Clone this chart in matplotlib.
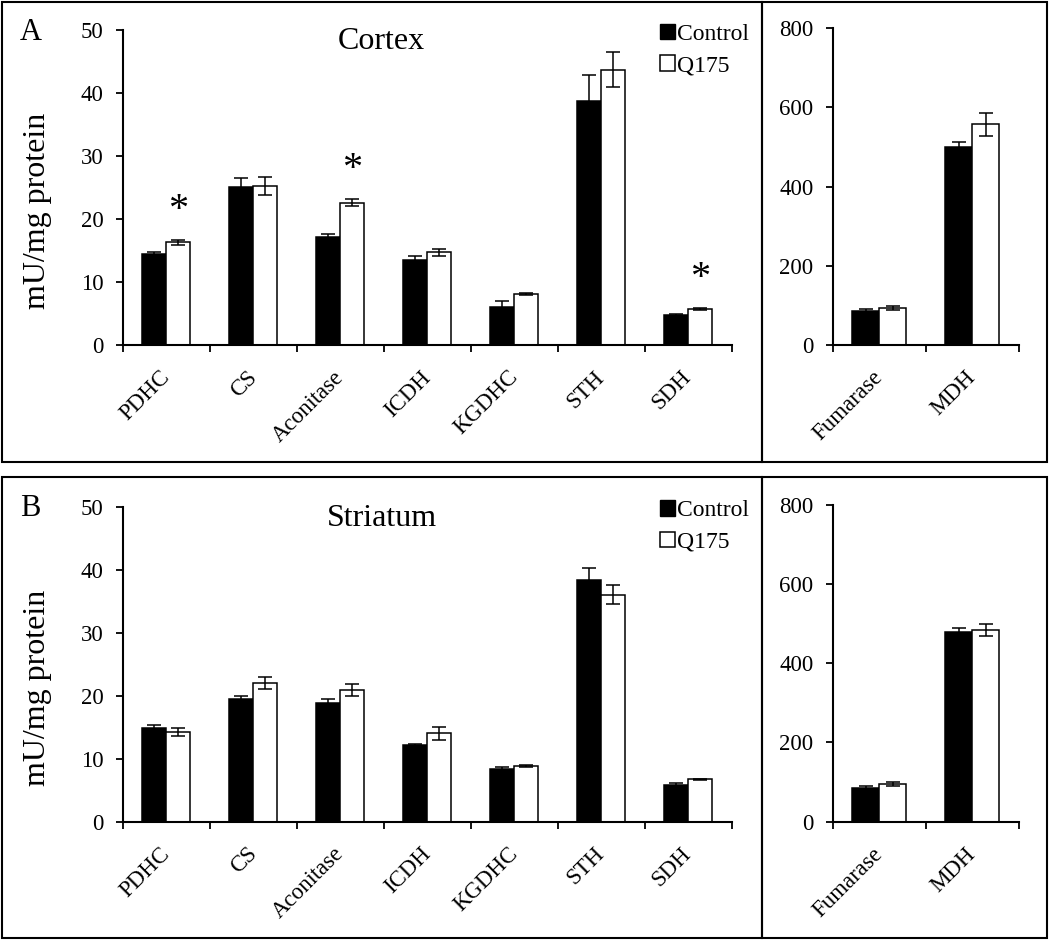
# Actividad de enzimas del ciclo de Krebs: corteza (A) y estriado (B), Control vs Q175
import numpy as np
import matplotlib.pyplot as plt
from matplotlib.patches import Patch, Rectangle

plt.rcParams['font.family'] = ['Liberation Serif', 'DejaVu Serif']

enzimas = ["PDHC", "CS", "Aconitase", "ICDH", "KGDHC", "STH", "SDH"]
enzimas_der = ["Fumarase", "MDH"]
grupos = ["Control", "Q175"]

# Panel A: corteza
cortex_ctrl = [14.5, 25.0, 17.2, 13.5, 6.0, 38.8, 4.8]
cortex_ctrl_err = [0.2, 1.5, 0.4, 0.6, 1.0, 4.0, 0.15]
cortex_q175 = [16.3, 25.2, 22.6, 14.7, 8.1, 43.7, 5.7]
cortex_q175_err = [0.4, 1.4, 0.6, 0.55, 0.15, 2.8, 0.15]
cortex_sig = [True, False, True, False, False, False, True]
cortex_der_ctrl = [87, 500]
cortex_der_ctrl_err = [3, 13]
cortex_der_q175 = [93, 557]
cortex_der_q175_err = [5, 30]

# Panel B: estriado
striatum_ctrl = [14.9, 19.5, 18.9, 12.1, 8.3, 38.4, 5.8]
striatum_ctrl_err = [0.4, 0.4, 0.5, 0.2, 0.4, 1.9, 0.3]
striatum_q175 = [14.2, 22.0, 20.9, 14.0, 8.9, 36.0, 6.7]
striatum_q175_err = [0.6, 0.9, 1.0, 1.0, 0.15, 1.5, 0.1]
striatum_sig = [False] * 7
striatum_der_ctrl = [84, 478]
striatum_der_ctrl_err = [6, 12]
striatum_der_q175 = [95, 484]
striatum_der_q175_err = [5, 14]


def dibujar_barras(ax, nombres, ctrl, ctrl_err, q175, q175_err, ymax, paso, ancho):
    x = np.arange(len(nombres))
    ax.bar(x - ancho / 2, ctrl, ancho, color='black', edgecolor='black', linewidth=1.1, zorder=2)
    ax.bar(x + ancho / 2, q175, ancho, color='white', edgecolor='black', linewidth=1.1, zorder=2)
    ax.errorbar(x - ancho / 2, ctrl, yerr=ctrl_err, fmt='none', ecolor='black',
                elinewidth=1.1, capsize=5, capthick=1.1, zorder=3)
    ax.errorbar(x + ancho / 2, q175, yerr=q175_err, fmt='none', ecolor='black',
                elinewidth=1.1, capsize=5, capthick=1.1, zorder=3)
    ax.set_xlim(-0.5, len(nombres) - 0.5)
    ax.set_ylim(0, ymax)
    ax.set_yticks(np.arange(0, ymax + 1, paso))
    ax.tick_params(axis='y', labelsize=16.5, length=5, width=1.3, pad=9, direction='out')
    # marcas en los límites de categoría, etiquetas en el centro
    ax.set_xticks(np.arange(-0.5, len(nombres), 1.0))
    ax.set_xticklabels([])
    ax.set_xticks(x, nombres, minor=True, rotation=45, ha='right',
                  va='center', rotation_mode='anchor')
    ax.tick_params(axis='x', which='major', length=5, width=1.3, direction='out')
    ax.tick_params(axis='x', which='minor', length=0, labelsize=16.5, pad=21)
    for lado in ['top', 'right']:
        ax.spines[lado].set_visible(False)
    for lado in ['left', 'bottom']:
        ax.spines[lado].set_linewidth(1.5)


def panel(y_abajo, ctrl, ctrl_err, q175, q175_err, sig, der_ctrl, der_ctrl_err,
          der_q175, der_q175_err, titulo, letra, y_letra):
    ax = fig.add_axes([0.1171, y_abajo, 0.58, 0.3351])
    dibujar_barras(ax, enzimas, ctrl, ctrl_err, q175, q175_err, 50, 10, 0.276)
    ax.set_ylabel("mU/mg protein", fontsize=23)
    ax.yaxis.set_label_coords(-0.117, 0.425)
    ax.text(0.4245, 0.962, titulo, transform=ax.transAxes, fontsize=23,
            ha='center', va='center')
    for i, s in enumerate(sig):
        if s:
            ax.annotate("*", (i + 0.138, q175[i] + q175_err[i]), xytext=(0, 21),
                        textcoords='offset points', ha='center', va='center', fontsize=29)
    manejadores = [Patch(facecolor='black', edgecolor='black'),
                   Patch(facecolor='white', edgecolor='black', linewidth=1.1)]
    ax.legend(manejadores, grupos, loc='upper left', bbox_to_anchor=(0.882, 1.02),
              frameon=False, fontsize=17, handlelength=0.62, handleheight=0.62,
              handletextpad=0.1, labelspacing=0.45, borderaxespad=0, borderpad=0)
    fig.text(0.019, y_letra, letra, fontsize=22, ha='left', va='center')

    ax2 = fig.add_axes([0.7933, y_abajo, 0.1771, 0.337])
    dibujar_barras(ax2, enzimas_der, der_ctrl, der_ctrl_err, der_q175, der_q175_err,
                   800, 200, 0.29)


fig = plt.figure(figsize=(10.5, 9.4), dpi=100)

panel(0.633, cortex_ctrl, cortex_ctrl_err, cortex_q175, cortex_q175_err, cortex_sig,
      cortex_der_ctrl, cortex_der_ctrl_err, cortex_der_q175, cortex_der_q175_err,
      "Cortex", "A", 1 - 33 / 940)
panel(0.1259, striatum_ctrl, striatum_ctrl_err, striatum_q175, striatum_q175_err, striatum_sig,
      striatum_der_ctrl, striatum_der_ctrl_err, striatum_der_q175, striatum_der_q175_err,
      "Striatum", "B", 1 - 509 / 940)

# recuadros de cada panel
W, H = 1050, 940
for (x0, y0, x1, y1) in [(2, 2, 762, 462), (762, 2, 1047, 462),
                         (2, 477, 762, 938), (762, 477, 1047, 938)]:
    fig.add_artist(Rectangle((x0 / W, 1 - y1 / H), (x1 - x0) / W, (y1 - y0) / H,
                             transform=fig.transFigure, fill=False,
                             edgecolor='black', linewidth=1.5))

plt.savefig('out.png', dpi=100)
